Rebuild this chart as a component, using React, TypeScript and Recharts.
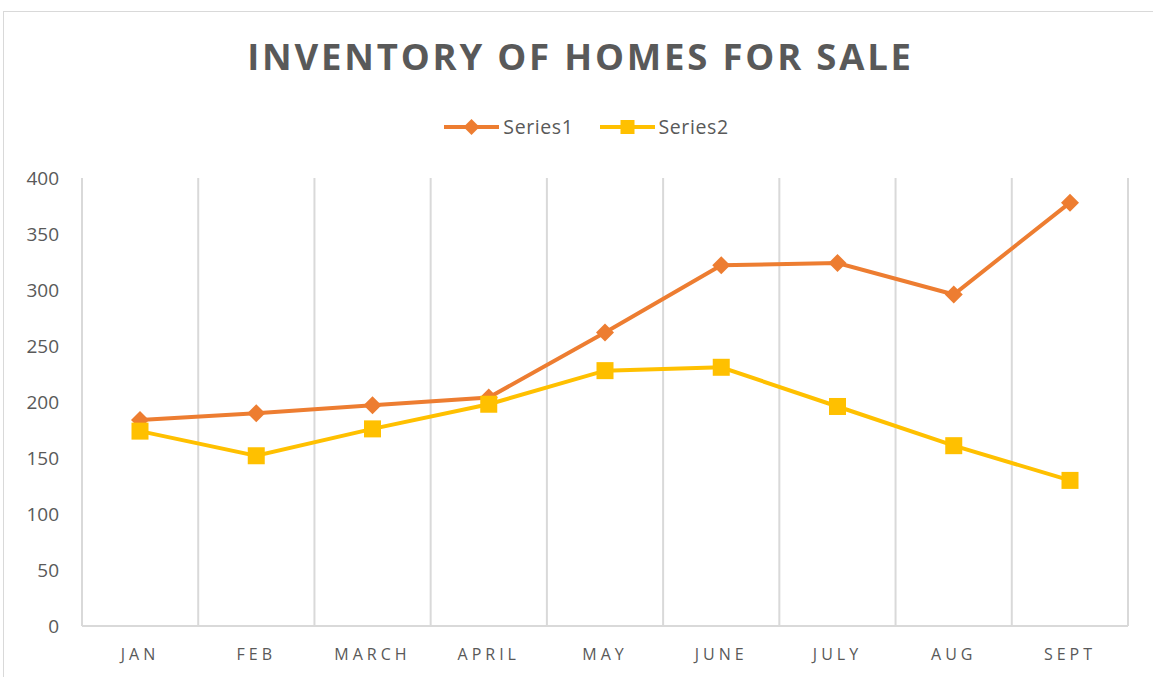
import { LineChart, Line, XAxis, YAxis, CartesianGrid, Legend } from 'recharts';

const months = ['JAN', 'FEB', 'MARCH', 'APRIL', 'MAY', 'JUNE', 'JULY', 'AUG', 'SEPT'];
const series1 = [184, 190, 197, 204, 262, 322, 324, 296, 378];
const series2 = [174, 152, 176, 198, 228, 231, 196, 161, 130];
const yTicks = [0, 50, 100, 150, 200, 250, 300, 350, 400];

const ORANGE = '#ED7D31';
const GOLD = '#FFC000';
const TEXT = '#595959';
const GRID = '#D9D9D9';
const FONT = '"Open Sans", sans-serif';

const data = months.map((m, i) => ({ month: m, s1: series1[i], s2: series2[i] }));

function Diamond({ cx, cy, fill, r = 9 }: { cx?: number; cy?: number; fill: string; r?: number }) {
  if (cx == null || cy == null) return null;
  return (
    <polygon
      points={`${cx},${cy - r} ${cx + r},${cy} ${cx},${cy + r} ${cx - r},${cy}`}
      fill={fill}
    />
  );
}

function Square({ cx, cy, fill, r = 8.5 }: { cx?: number; cy?: number; fill: string; r?: number }) {
  if (cx == null || cy == null) return null;
  return <rect x={cx - r} y={cy - r} width={r * 2} height={r * 2} fill={fill} />;
}

const legendItems = [
  { name: 'Series1', color: ORANGE, shape: 'diamond' },
  { name: 'Series2', color: GOLD, shape: 'square' },
];

function LegendContent() {
  return (
    <div
      style={{
        display: 'flex',
        justifyContent: 'center',
        gap: 26,
        fontFamily: FONT,
        fontSize: 19.5,
        letterSpacing: 0.6,
        color: TEXT,
      }}
    >
      {legendItems.map((it) => (
        <div key={it.name} style={{ display: 'flex', alignItems: 'center', gap: 4 }}>
          <svg width={55} height={20}>
            <line x1={0} y1={10} x2={55} y2={10} stroke={it.color} strokeWidth={4} />
            {it.shape === 'diamond' ? (
              <Diamond cx={27.5} cy={10} fill={it.color} r={8} />
            ) : (
              <Square cx={27.5} cy={10} fill={it.color} r={7} />
            )}
          </svg>
          <span>{it.name}</span>
        </div>
      ))}
    </div>
  );
}

export default function App() {
  return (
    <div style={{ position: 'absolute', left: 0, top: 0, width: 1153, height: 677, overflow: 'hidden', background: '#fff' }}>
      <div style={{ position: 'absolute', left: 3, top: 11, width: 1200, height: 720, border: `1px solid ${GRID}` }} />
      <div
        style={{
          position: 'absolute',
          left: 0,
          top: 31,
          width: 1161,
          textAlign: 'center',
          fontFamily: FONT,
          fontWeight: 700,
          fontSize: 36.5,
          letterSpacing: 2.8,
          color: TEXT,
        }}
      >
        INVENTORY OF HOMES FOR SALE
      </div>
      <div style={{ position: 'absolute', left: 0, top: 0 }}>
        <LineChart width={1153} height={677} data={data} margin={{ top: 178, right: 25, bottom: 0, left: 0 }}>
          <CartesianGrid
            horizontal={false}
            stroke={GRID}
            strokeWidth={2}
            verticalCoordinatesGenerator={({ offset }: any) =>
              months.map((_, i) => offset.left + (i * offset.width) / months.length).concat(offset.left + offset.width)
            }
          />
          <XAxis
            dataKey="month"
            height={51}
            padding={{ left: 58, right: 58 }}
            axisLine={{ stroke: GRID, strokeWidth: 2 }}
            tickLine={false}
            tickMargin={17}
            tick={{ fill: TEXT, fontSize: 16, fontFamily: FONT, letterSpacing: 4 }}
            interval={0}
          />
          <YAxis
            width={82}
            domain={[0, 400]}
            ticks={yTicks}
            axisLine={false}
            tickLine={false}
            tickMargin={17}
            tick={{ fill: TEXT, fontSize: 19, fontFamily: FONT }}
          />
          <Legend
            verticalAlign="middle"
            align="center"
            layout="horizontal"
            content={<LegendContent />}
            wrapperStyle={{ top: 113, left: 10, width: 1153 }}
          />
          <Line
            dataKey="s1"
            name="Series1"
            stroke={ORANGE}
            strokeWidth={4}
            dot={(p: any) => <Diamond key={p.index} cx={p.cx} cy={p.cy} fill={ORANGE} />}
            activeDot={false}
            isAnimationActive={false}
          />
          <Line
            dataKey="s2"
            name="Series2"
            stroke={GOLD}
            strokeWidth={4}
            dot={(p: any) => <Square key={p.index} cx={p.cx} cy={p.cy} fill={GOLD} />}
            activeDot={false}
            isAnimationActive={false}
          />
        </LineChart>
      </div>
    </div>
  );
}
